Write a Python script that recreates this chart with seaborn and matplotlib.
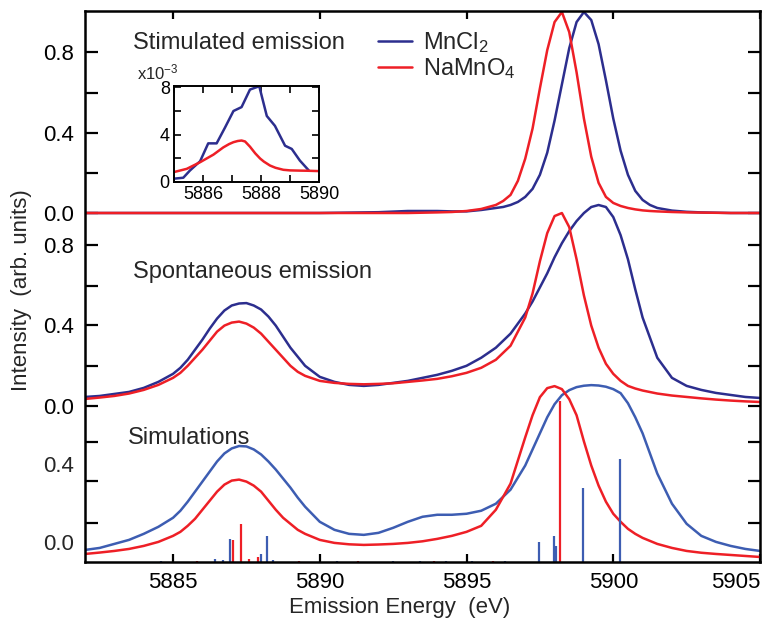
import numpy as np
import matplotlib
matplotlib.use("Agg")
import matplotlib.pyplot as plt
import matplotlib.transforms as mtransforms
from matplotlib.lines import Line2D
import seaborn as sns

# ---- values ----
# top panel: stimulated emission
stim_energy = [5882, 5883, 5884, 5885, 5886, 5887, 5888, 5889, 5890, 5891, 5892, 5893, 5894, 5894.5,
               5895, 5895.5,
               5896, 5896.25, 5896.5, 5896.75, 5897, 5897.25, 5897.5, 5897.75, 5898, 5898.25,
               5898.5, 5898.75, 5899, 5899.25, 5899.5, 5899.75, 5900, 5900.25, 5900.5, 5900.75,
               5901, 5901.25, 5901.5,
               5902, 5902.5, 5903, 5904, 5905]
stim_mncl2 = [0, 0, 0, 0, 0, 0, 0, 0, 0, 0.002, 0.004, 0.01, 0.01, 0.008,
              0.008, 0.015,
              0.025, 0.03, 0.04, 0.055, 0.08, 0.12, 0.19, 0.30, 0.46, 0.64,
              0.82, 0.95, 1.0, 0.96, 0.84, 0.66, 0.47, 0.31, 0.19, 0.11,
              0.065, 0.04, 0.025,
              0.012, 0.006, 0.003, 0, 0]
stim_namno4 = [0, 0, 0, 0, 0, 0, 0, 0, 0, 0, 0, 0, 0.003, 0.005,
               0.01, 0.02,
               0.04, 0.06, 0.09, 0.16, 0.27, 0.42, 0.62, 0.81, 0.95, 1.0,
               0.90, 0.70, 0.47, 0.28, 0.15, 0.08, 0.05, 0.035, 0.025, 0.018,
               0.013, 0.01, 0.008,
               0.005, 0.003, 0.002, 0, 0]

# middle and bottom panels share one energy grid
grid_energy = [5882, 5882.5, 5883, 5883.5, 5884, 5884.5, 5885,
               5885.25, 5885.5, 5885.75, 5886, 5886.25, 5886.5, 5886.75, 5887, 5887.25,
               5887.5, 5887.75, 5888, 5888.25, 5888.5, 5888.75, 5889, 5889.25, 5889.5,
               5890, 5890.5, 5891, 5891.5, 5892, 5892.5, 5893, 5893.5, 5894, 5894.5,
               5895, 5895.5, 5896, 5896.5,
               5897, 5897.25, 5897.5, 5897.75, 5898, 5898.25, 5898.5, 5898.75, 5899,
               5899.25, 5899.5, 5899.75, 5900, 5900.25, 5900.5, 5900.75, 5901,
               5901.5, 5902, 5902.5, 5903, 5903.5, 5904, 5904.5, 5905]

# middle panel: spontaneous emission
spont_mncl2 = [0.045, 0.05, 0.06, 0.07, 0.09, 0.12, 0.16,
               0.19, 0.23, 0.28, 0.33, 0.385, 0.435, 0.475, 0.50, 0.51,
               0.512, 0.50, 0.48, 0.445, 0.40, 0.345, 0.29, 0.245, 0.20,
               0.145, 0.12, 0.105, 0.10, 0.105, 0.115, 0.125, 0.14, 0.155, 0.175,
               0.20, 0.24, 0.29, 0.36,
               0.46, 0.52, 0.59, 0.66, 0.74, 0.81, 0.87, 0.92, 0.96,
               0.99, 1.0, 0.99, 0.94, 0.85, 0.73, 0.58, 0.44,
               0.24, 0.14, 0.10, 0.08, 0.065, 0.055, 0.045, 0.04]
spont_namno4 = [0.035, 0.042, 0.05, 0.062, 0.08, 0.105, 0.14,
                0.165, 0.20, 0.24, 0.28, 0.325, 0.37, 0.40, 0.415, 0.42,
                0.41, 0.39, 0.36, 0.32, 0.28, 0.24, 0.20, 0.17, 0.15,
                0.125, 0.115, 0.11, 0.108, 0.11, 0.113, 0.12, 0.127, 0.135, 0.148,
                0.165, 0.19, 0.23, 0.30,
                0.44, 0.56, 0.72, 0.86, 0.945, 0.96, 0.89, 0.73, 0.55,
                0.40, 0.29, 0.21, 0.16, 0.125, 0.10, 0.087, 0.077,
                0.062, 0.052, 0.045, 0.038, 0.032, 0.027, 0.023, 0.02]

# bottom panel: simulations
sim_mncl2 = [0.06, 0.07, 0.09, 0.11, 0.14, 0.175, 0.22,
             0.255, 0.30, 0.35, 0.40, 0.45, 0.50, 0.54, 0.565, 0.577,
             0.575, 0.56, 0.535, 0.50, 0.46, 0.415, 0.37, 0.32, 0.275,
             0.20, 0.16, 0.14, 0.135, 0.145, 0.17, 0.20, 0.225, 0.235, 0.235,
             0.24, 0.255, 0.29, 0.36,
             0.48, 0.56, 0.64, 0.72, 0.785, 0.83, 0.855, 0.87, 0.877,
             0.88, 0.878, 0.872, 0.86, 0.84, 0.79, 0.72, 0.64,
             0.44, 0.29, 0.19, 0.13, 0.10, 0.08, 0.065, 0.055]
sim_namno4 = [0.04, 0.047, 0.055, 0.065, 0.08, 0.10, 0.13,
              0.15, 0.18, 0.215, 0.26, 0.305, 0.35, 0.385, 0.405, 0.41,
              0.40, 0.38, 0.35, 0.305, 0.26, 0.22, 0.19, 0.16, 0.14,
              0.11, 0.095, 0.088, 0.085, 0.087, 0.09, 0.095, 0.103, 0.115, 0.13,
              0.15, 0.18, 0.26, 0.39,
              0.62, 0.73, 0.82, 0.865, 0.875, 0.86, 0.81, 0.73, 0.60,
              0.48, 0.38, 0.30, 0.24, 0.20, 0.165, 0.14, 0.12,
              0.09, 0.07, 0.055, 0.046, 0.04, 0.035, 0.03, 0.025]

# stick spectra under the simulations
stick_mncl2_energy = [5884.6, 5886.43, 5886.7, 5886.95, 5888.0, 5888.2, 5888.4, 5890.6, 5892.5,
                      5893.4, 5894.3, 5895.2, 5896.3, 5897.46, 5897.98, 5898.05, 5898.96, 5900.23]
stick_mncl2 = [0.005, 0.015, 0.01, 0.115, 0.04, 0.13, 0.01, 0.006, 0.005,
               0.007, 0.006, 0.005, 0.006, 0.10, 0.13, 0.08, 0.37, 0.51]
stick_namno4_energy = [5885.8, 5887.05, 5887.32, 5887.6, 5887.9, 5889.3, 5891.3, 5893.9, 5895.9, 5898.18]
stick_namno4 = [0.005, 0.11, 0.19, 0.015, 0.025, 0.005, 0.006, 0.005, 0.005, 0.80]

# inset: stimulated K-alpha2 region (x 1e-3)
inset_mncl2_energy = [5885.0, 5885.32, 5885.55, 5885.9, 5886.18, 5886.47, 5886.76, 5887.05, 5887.33,
                      5887.62, 5887.94, 5888.2, 5888.48, 5888.83, 5889.06, 5889.34, 5889.65]
inset_mncl2 = [0.28, 0.36, 0.97, 1.75, 3.26, 3.26, 4.6, 5.99, 6.32,
               7.8, 8.08, 5.57, 4.74, 3.06, 2.79, 1.81, 0.97]
inset_namno4_energy = [5885.0, 5885.44, 5885.9, 5886.36, 5886.7, 5886.9, 5887.05, 5887.2, 5887.33,
                       5887.45, 5887.62, 5887.8, 5887.97, 5888.1, 5888.31, 5888.5, 5888.77, 5889.0,
                       5889.34, 5889.6, 5890.0]
inset_namno4 = [0.84, 1.11, 1.67, 2.31, 2.92, 3.2, 3.36, 3.46, 3.5,
                3.42, 2.98, 2.42, 1.98, 1.72, 1.39, 1.2, 1.03, 0.98,
                0.96, 0.95, 0.92]

NAVY = "#2c2e8e"
SIM_BLUE = "#3d5db2"
RED = "#ee1f26"

sns.set_theme(style="ticks")
plt.rcParams["font.family"] = ["Liberation Sans", "DejaVu Sans"]
plt.rcParams["mathtext.fontset"] = "custom"
plt.rcParams["mathtext.rm"] = "Liberation Sans"
plt.rcParams["mathtext.it"] = "Liberation Sans:italic"

W, H = 771, 632
PX = 201.0  # pixels per intensity unit


def py(p):
    # pixel row of the reference -> stacked intensity coordinate
    return (562 - p) / PX


off_top = py(213)
off_mid = py(406)

fig = plt.figure(figsize=(W / 100, H / 100), dpi=100)
ax = fig.add_axes([85 / W, 70 / H, 675 / W, 551 / H])

lw = 1.8
sns.lineplot(x=stim_energy, y=np.array(stim_mncl2) + off_top, ax=ax, color=NAVY, lw=lw, estimator=None)
sns.lineplot(x=stim_energy, y=np.array(stim_namno4) + off_top, ax=ax, color=RED, lw=lw, estimator=None)
sns.lineplot(x=grid_energy, y=np.array(spont_mncl2) + off_mid, ax=ax, color=NAVY, lw=lw, estimator=None)
sns.lineplot(x=grid_energy, y=np.array(spont_namno4) + off_mid, ax=ax, color=RED, lw=lw, estimator=None)
sns.lineplot(x=grid_energy, y=sim_mncl2, ax=ax, color=SIM_BLUE, lw=lw, estimator=None)
sns.lineplot(x=grid_energy, y=sim_namno4, ax=ax, color=RED, lw=lw, estimator=None)
ax.vlines(stick_mncl2_energy, 0, stick_mncl2, color=SIM_BLUE, lw=1.6)
ax.vlines(stick_namno4_energy, 0, stick_namno4, color=RED, lw=1.6)

ax.set_xlim(5882, 5905)
ax.set_ylim(0, py(11))

# y ticks: three stacked scales on one axis
tick_px = [52, 93, 133, 173, 213, 245, 286, 325, 366, 406, 442, 481, 523]
tick_lab = {52: "0.8", 133: "0.4", 213: "0.0", 245: "0.8", 325: "0.4", 406: "0.0"}
ax.set_yticks([py(p) for p in tick_px])
ax.set_yticklabels([tick_lab.get(p, "") for p in tick_px])
trans = mtransforms.blended_transform_factory(ax.transAxes, ax.transData)
for p, s in [(467, "0.4"), (545, "0.0")]:
    ax.text(-11 / 675, py(p), s, transform=trans, ha="right", va="center", fontsize=16)

ax.set_xticks([5885, 5890, 5895, 5900, 5905])
ax.set_xticklabels(["5885", "5890", "5895", "5900", "5905"])
ax.get_xticklabels()[-1].set_horizontalalignment("right")

ax.tick_params(axis="y", direction="in", left=True, right=True, length=9, width=1.6,
               labelsize=16, pad=8, color="black", labelcolor="black")
ax.tick_params(axis="x", direction="in", top=True, bottom=True, length=6, width=1.6,
               labelsize=16, pad=7, color="black", labelcolor="black")
for s in ax.spines.values():
    s.set_visible(True)
    s.set_linewidth(1.8)
    s.set_color("black")

fig.text(400 / W, 1 - 607 / H, "Emission Energy  (eV)", ha="center", va="center", fontsize=16)
fig.text(22 / W, 1 - 290 / H, "Intensity  (arb. units)", ha="center", va="center",
         rotation=90, fontsize=16)

fig.text(133 / W, 1 - 43 / H, "Stimulated emission", va="center", fontsize=17)
fig.text(133 / W, 1 - 272 / H, "Spontaneous emission", va="center", fontsize=17)
fig.text(128 / W, 1 - 438 / H, "Simulations", va="center", fontsize=17)

handles = [Line2D([], [], color=NAVY, lw=lw), Line2D([], [], color=RED, lw=lw)]
fig.legend(handles, ["MnCl$_2$", "NaMnO$_4$"], loc="upper left",
           bbox_to_anchor=(378 / W, 1 - 30 / H), frameon=False, borderpad=0,
           borderaxespad=0, handlelength=1.45, handletextpad=0.45, labelspacing=0.05,
           fontsize=17)

# inset
axi = fig.add_axes([174 / W, 1 - 182 / H, 145 / W, 96 / H])
sns.lineplot(x=inset_mncl2_energy, y=inset_mncl2, ax=axi, color=NAVY, lw=lw, estimator=None)
sns.lineplot(x=inset_namno4_energy, y=inset_namno4, ax=axi, color=RED, lw=lw, estimator=None)
axi.set_xlim(5885, 5890)
axi.set_ylim(0, 8.1)
axi.set_xticks([5886, 5888, 5890])
axi.set_xticks([5885, 5887, 5889], minor=True)
axi.set_yticks([0, 4, 8])
axi.set_yticks([2, 6], minor=True)
axi.set_xlabel("")
axi.set_ylabel("")
axi.tick_params(which="both", direction="in", top=True, right=True, length=5, width=1.2,
                labelsize=13, pad=3, color="black", labelcolor="black")
for s in axi.spines.values():
    s.set_visible(True)
    s.set_linewidth(1.4)
    s.set_color("black")
fig.text(137 / W, 1 - 72 / H, "x10$^{-3}$", va="center", fontsize=12)

fig.savefig("out.png", dpi=100)
